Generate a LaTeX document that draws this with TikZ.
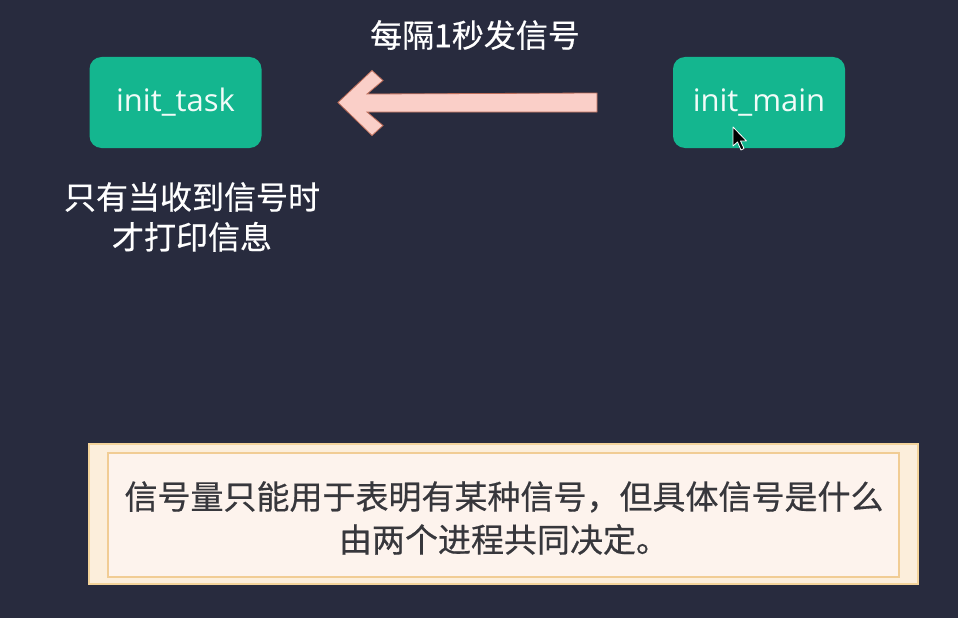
\documentclass[tikz,border=0pt]{standalone}
\usepackage{fontspec}
\setmainfont{Open Sans}
\newfontfamily\cjk{Noto Sans CJK SC}[FakeBold=0.5]
\definecolor{bgc}{RGB}{40,43,62}
\definecolor{teal}{RGB}{20,182,143}
\definecolor{arrowfill}{RGB}{250,207,200}
\definecolor{arrowline}{RGB}{190,110,90}
\definecolor{outerfill}{RGB}{252,238,219}
\definecolor{outerline}{RGB}{244,212,155}
\definecolor{innerfill}{RGB}{253,243,237}
\definecolor{innerline}{RGB}{241,204,148}
\definecolor{boxtext}{RGB}{55,55,60}
\tikzset{
  procbox/.style={rectangle, rounded corners=12pt, fill=teal, text=white!94!teal,
    minimum width=172pt, minimum height=91pt, inner sep=0pt,
    font=\fontsize{31}{36}\selectfont},
  whitetext/.style={text=white, inner sep=0pt, align=center,
    font=\cjk\fontsize{32}{40}\selectfont},
  notetext/.style={text=boxtext, inner sep=0pt, align=center,
    font=\cjk\fontsize{33}{43}\selectfont},
}
\begin{document}
\begin{tikzpicture}[x=1pt,y=-1pt]
\fill[bgc] (0,0) rectangle (958,618);
\useasboundingbox (0,0) rectangle (958,618);
% process boxes
\node[procbox] (task) at (175.5,102.5) {init\_task};
\node[procbox] (main) at (759,102.5) {init\_main};
% arrow
\coordinate (atip) at (338,102.5);
\coordinate (atail) at (597,102.5);
\draw[arrowline, fill=arrowfill, line width=0.8pt, line join=miter]
  (atip) -- ++(34,-32) -- ++(11,10) -- ++(-16,13.5)
  -- (atail |- 0,93) -- (atail |- 0,112) -- (367,112)
  -- ++(16,13.5) -- ++(-11,10) -- cycle;
\node[whitetext] (sig) at (475,35) {每隔1秒发信号};
\node[whitetext] (cond) at (192,217) {只有当收到信号时\\才打印信息};
% note box
\draw[outerline, fill=outerfill, line width=1.5pt] (89,444) rectangle (918,584);
\draw[innerline, fill=innerfill, line width=2.5pt] (108,453) rectangle (899,577);
\node[notetext] (note) at (504,518) {信号量只能用于表明有某种信号，但具体信号是什么\\由两个进程共同决定。};
% mouse cursor
\draw[white, fill=black, line width=0.8pt, line join=round]
  (733,127) -- (733,146) -- (737.5,142) -- (741,150) -- (744,148.5)
  -- (740.5,141) -- (746.5,141) -- cycle;
\end{tikzpicture}
\end{document}
